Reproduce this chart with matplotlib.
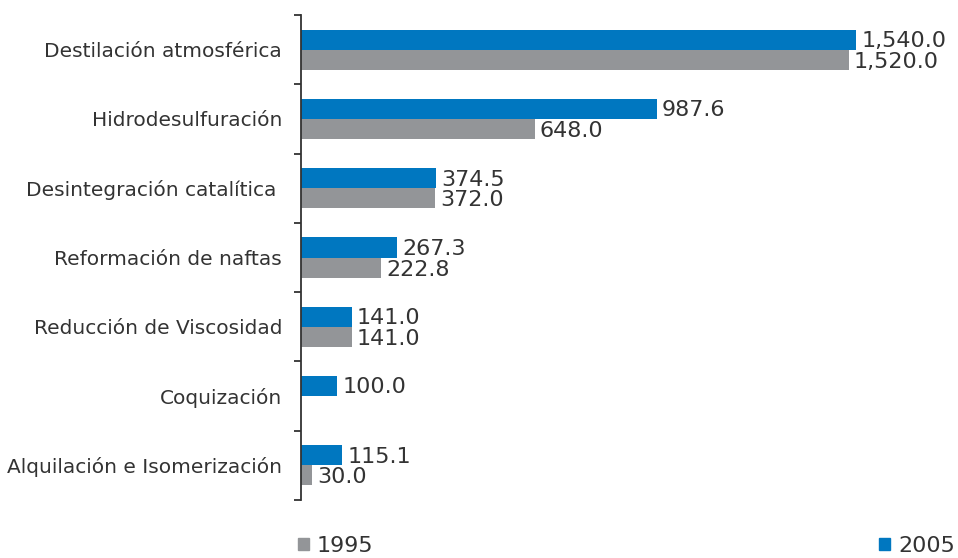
import matplotlib as mpl
mpl.use('Agg')
import matplotlib.pyplot as plt
from matplotlib.patches import Patch
import numpy as np

# Capacidad de proceso por tipo de planta
categories = ['Destilación atmosférica', 'Hidrodesulfuración',
              'Desintegración catalítica ', 'Reformación de naftas',
              'Reducción de Viscosidad', 'Coquización',
              'Alquilación e Isomerización']
values_2005 = [1540.0, 987.6, 374.5, 267.3, 141.0, 100.0, 115.1]
values_1995 = [1520.0, 648.0, 372.0, 222.8, 141.0, None, 30.0]

blue = '#0077c0'
gray = '#939598'
txt = '#333333'

plt.rcParams['font.family'] = ['DejaVu Sans']

fig = plt.figure(figsize=(9.58, 5.58), dpi=100)
ax = fig.add_axes([301 / 958, 1 - 500 / 558, 657 / 958, 485 / 558])

y = np.arange(len(categories))
h = 0.29

for i, (v5, v9) in enumerate(zip(values_2005, values_1995)):
    ax.barh(y[i] - h / 2, v5, height=h, color=blue)
    ax.text(v5 + 14, y[i] - h / 2 + 0.02, f'{v5:,.1f}', va='center', ha='left',
            fontsize=16, color=txt)
    if v9 is not None:
        ax.barh(y[i] + h / 2, v9, height=h, color=gray)
        ax.text(v9 + 14, y[i] + h / 2 + 0.03, f'{v9:,.1f}', va='center',
                ha='left', fontsize=16, color=txt)

ax.set_xlim(0, 657 / 0.3605)
ax.set_ylim(len(categories) - 0.5, -0.5)

for s in ['top', 'right', 'bottom']:
    ax.spines[s].set_visible(False)
ax.spines['left'].set_color(txt)
ax.spines['left'].set_linewidth(1.3)
ax.set_xticks([])

ax.set_yticks(y)
ax.set_yticklabels(categories, fontsize=14.5, color=txt)
ax.tick_params(axis='y', which='major', length=0, pad=13.5)
ax.set_yticks(np.arange(len(categories) + 1) - 0.5, minor=True)
ax.tick_params(axis='y', which='minor', length=5, width=1.3, color=txt)

kw = dict(frameon=False, handlelength=0.5, handleheight=0.5,
          handletextpad=0.35, fontsize=16, borderaxespad=0, borderpad=0,
          labelcolor=txt)
fig.legend(handles=[Patch(color=gray, label='1995')], loc='lower left',
           bbox_to_anchor=(298 / 958, 0.004), **kw)
fig.legend(handles=[Patch(color=blue, label='2005')], loc='lower right',
           bbox_to_anchor=(955 / 958, 0.004), **kw)

fig.savefig('out.png', dpi=100)
